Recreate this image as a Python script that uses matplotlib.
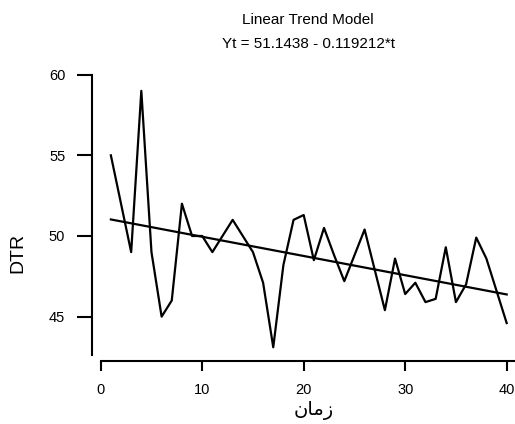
import matplotlib
matplotlib.use("Agg")
import matplotlib.pyplot as plt
import numpy as np

# Data
t = list(range(1, 41))
dtr = [55.0, 52.0, 49.0, 59.0, 49.0, 45.0, 46.0, 52.0, 50.0, 50.0,
       49.0, 50.0, 51.0, 50.0, 49.0, 47.1, 43.1, 48.2, 51.0, 51.3,
       48.5, 50.5, 48.8, 47.2, 48.8, 50.4, 47.9, 45.4, 48.6, 46.4,
       47.1, 45.9, 46.1, 49.3, 45.9, 47.0, 49.9, 48.6, 46.6, 44.6]
intercept = 51.1438
slope = -0.119212
xticks = [0, 10, 20, 30, 40]
yticks = [45, 50, 55, 60]
title1 = "Linear Trend Model"
title2 = "Yt = 51.1438 - 0.119212*t"
ylabel = "DTR"
# "زمان" shaped manually (presentation forms, visual order)
xlabel = "\uFEE5\uFE8E\uFEE3\uFEAF"

trend = [intercept + slope * ti for ti in t]

plt.rcParams['font.family'] = ['Liberation Sans', 'DejaVu Sans']

fig = plt.figure(figsize=(5.15, 4.24), dpi=100)
ax = fig.add_axes([92.3 / 515, 62.7 / 424, (514.8 - 92.3) / 515, (361.3 - 74.7) / 424])

ax.plot(t, dtr, color='black', lw=1.6, clip_on=False)
ax.plot(t, trend, color='black', lw=1.6, clip_on=False)

ax.set_xlim(-0.83, 40.8)
ax.set_ylim(42.23, 60.0)

for s in ['top', 'right']:
    ax.spines[s].set_visible(False)
ax.spines['left'].set_bounds(42.62, 60)
ax.spines['bottom'].set_bounds(0, 40.8)
ax.spines['left'].set_linewidth(1.5)
ax.spines['bottom'].set_linewidth(1.5)

ax.set_xticks(xticks)
ax.set_yticks(yticks)
ax.tick_params(axis='both', direction='out', width=1.5, labelsize=10.5)
ax.tick_params(axis='y', length=10.5, pad=9)
ax.tick_params(axis='x', length=7.5, pad=8)

fig.text(308 / 515, 1 - 20 / 424, title1, ha='center', va='center', fontsize=11)
fig.text(308 / 515, 1 - 44 / 424, title2, ha='center', va='center', fontsize=11)
fig.text(18 / 515, 1 - 253 / 424, ylabel, ha='center', va='center', rotation=90, fontsize=14)
fig.text(314 / 515, 1 - 411 / 424, xlabel, ha='center', va='center', fontsize=14,
         family=['DejaVu Sans'])

fig.savefig('out.png', dpi=100)
